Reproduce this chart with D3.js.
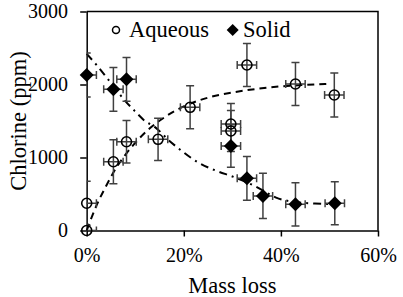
<!DOCTYPE html>
<meta charset="utf-8" />
<title>Chlorine vs mass loss</title>
<style>
  body { margin: 0; background: #fff; }
  svg { display: block; }
  svg text { font-family: "Liberation Serif", "Times New Roman", "DejaVu Serif", serif; fill: #000; }
  .axis path, .axis line { stroke: #000; stroke-width: 1.5px; }
  .axis text { font-size: 20px; }
  .title { font-size: 22.5px; }
  .err { stroke: #404040; stroke-width: 1.5px; fill: none; }
</style>
<body>
<svg width="403" height="297"></svg>
<script src="https://d3js.org/d3.v7.min.js"></script>
<script>
// aqueous chlorine (open circles)
const aqX   = [0, 0, 5.5, 8.2, 14.7, 21.3, 33.0, 43.0, 51.0, 29.7, 29.7];
const aqY   = [0, 373, 942, 1216, 1249, 1688, 2267, 2007, 1856, 1459, 1363];
const aqErr = [0, 300, 300, 290, 290, 295, 295, 295, 300, 280, 280];

// solid chlorine (filled diamonds)
const solX   = [0, 5.5, 8.2, 29.7, 33.0, 36.3, 43.0, 51.1];
const solY   = [2130, 1934, 2071, 1158, 715, 473, 359, 373];
const solErr = [300, 300, 300, 290, 300, 310, 296, 295];

// horizontal error (mass loss, %)
const xErr = 2;

// trend lines
const aqCurveX = [0, 2, 4, 6, 8, 10, 13, 16, 20, 25, 30, 35, 40, 45, 50];
const aqCurveY = [0, 340, 610, 850, 1040, 1200, 1400, 1550, 1700, 1820, 1890, 1940, 1975, 1995, 2010];
const solCurveX = [0, 2, 5, 8, 10, 12, 14, 17, 19, 23, 27, 30, 33, 36, 39, 43, 47, 51];
const solCurveY = [2420, 2270, 2020, 1770, 1630, 1500, 1420, 1230, 1120, 930, 810, 740, 660, 560, 450, 390, 370, 360];

const xTicks = [0, 20, 40, 60];
const yTicks = [0, 1000, 2000, 3000];

const svg = d3.select("svg");
const x = d3.scaleLinear().domain([0, 60]).range([86.7, 378]);
const y = d3.scaleLinear().domain([0, 3000]).range([230.5, 11.5]);

svg.append("defs").append("clipPath").attr("id", "plot")
  .append("rect")
  .attr("x", x(0)).attr("y", y(3000))
  .attr("width", x(60) - x(0)).attr("height", y(0) - y(3000));

// frame (top + right)
svg.append("path")
  .attr("d", `M${x(0)},${y(3000)}H${x(60)}V${y(0)}`)
  .attr("fill", "none").attr("stroke", "#000").attr("stroke-width", 1.5);

svg.append("g").attr("class", "axis")
  .attr("transform", `translate(0,${y(0)})`)
  .call(d3.axisBottom(x).tickValues(xTicks).tickFormat(d => d + "%")
    .tickSize(6).tickSizeOuter(0).tickPadding(11));

svg.append("g").attr("class", "axis")
  .attr("transform", `translate(${x(0)},0)`)
  .call(d3.axisLeft(y).tickValues(yTicks).tickFormat(d3.format("d"))
    .tickSize(6.5).tickSizeOuter(0).tickPadding(12.3));

svg.selectAll(".axis .domain").attr("stroke-width", 1.8);

svg.append("text").attr("class", "title")
  .attr("x", (x(0) + x(60)) / 2).attr("y", 293)
  .attr("text-anchor", "middle").text("Mass loss");

svg.append("text").attr("class", "title")
  .attr("transform", `translate(26,${(y(0) + y(3000)) / 2}) rotate(-90)`)
  .attr("text-anchor", "middle").text("Chlorine (ppm)");

// trend lines
const line = d3.line().x(d => x(d[0])).y(d => y(d[1])).curve(d3.curveMonotoneX);
svg.append("path")
  .attr("d", line(d3.zip(aqCurveX, aqCurveY)))
  .attr("fill", "none").attr("stroke", "#000").attr("stroke-width", 2)
  .attr("stroke-dasharray", "7,5");
svg.append("path")
  .attr("d", line(d3.zip(solCurveX, solCurveY)))
  .attr("fill", "none").attr("stroke", "#000").attr("stroke-width", 2)
  .attr("stroke-dasharray", "8,5,2,5");

// error bars
const cap = 4;
function errorBars(xs, ys, es) {
  const g = svg.append("g").attr("clip-path", "url(#plot)");
  xs.forEach((xv, i) => {
    const cx = x(xv), cy = y(ys[i]);
    if (es[i] > 0) {
      const y1 = y(ys[i] + es[i]), y2 = y(ys[i] - es[i]);
      g.append("path").attr("class", "err")
        .attr("d", `M${cx},${y1}V${y2}M${cx - cap},${y1}H${cx + cap}M${cx - cap},${y2}H${cx + cap}`);
    }
    const x1 = x(xv - xErr), x2 = x(xv + xErr);
    g.append("path").attr("class", "err")
      .attr("d", `M${x1},${cy}H${x2}M${x1},${cy - cap}V${cy + cap}M${x2},${cy - cap}V${cy + cap}`);
  });
}
errorBars(aqX, aqY, aqErr);
errorBars(solX, solY, solErr);

// markers
svg.append("g").selectAll("circle")
  .data(d3.zip(aqX, aqY))
  .join("circle")
  .attr("cx", d => x(d[0])).attr("cy", d => y(d[1])).attr("r", 5)
  .attr("fill", "none").attr("stroke", "#000").attr("stroke-width", 1.6);

const diamond = s => `M0,${-s}L${s},0L0,${s}L${-s},0Z`;
svg.append("g").selectAll("path")
  .data(d3.zip(solX, solY))
  .join("path")
  .attr("transform", d => `translate(${x(d[0])},${y(d[1])})`)
  .attr("d", diamond(7)).attr("fill", "#000");

// legend
const lg = svg.append("g");
lg.append("circle").attr("cx", 116).attr("cy", 30).attr("r", 3.5)
  .attr("fill", "none").attr("stroke", "#000").attr("stroke-width", 1.5);
lg.append("text").attr("class", "title").attr("x", 129).attr("y", 37).text("Aqueous");
lg.append("path").attr("transform", "translate(232.7,30)").attr("d", diamond(6)).attr("fill", "#000");
lg.append("text").attr("class", "title").attr("x", 243).attr("y", 37).text("Solid");
</script>
</body>
